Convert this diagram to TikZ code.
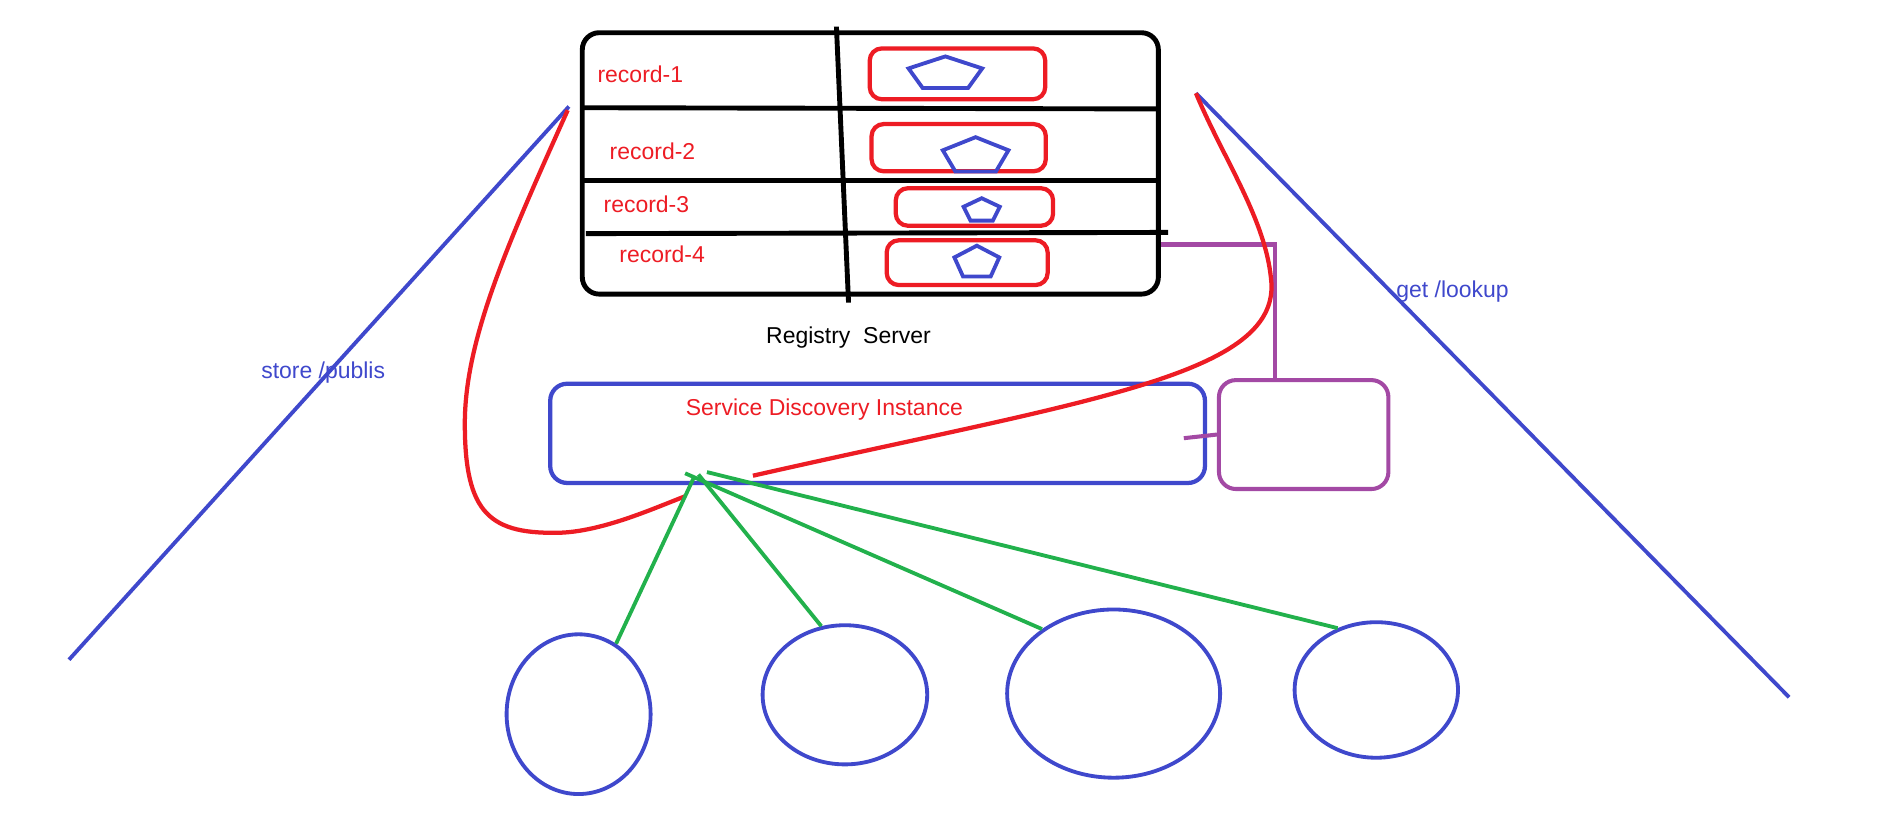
\documentclass[tikz,border=0pt]{standalone}
\usepackage{fontspec}
\setmainfont{Liberation Sans}
\usetikzlibrary{shapes}
\definecolor{paint_red}{RGB}{237, 28, 36}
\definecolor{paint_blue}{RGB}{63, 72, 204}
\definecolor{paint_green}{RGB}{34, 177, 76}
\definecolor{paint_purple}{RGB}{163, 73, 164}
\tikzstyle{regbox}=[rectangle,rounded corners=0.28cm,draw=black,line width=2.3pt,
  inner sep=0pt,minimum width=9.52cm,minimum height=4.32cm]
\tikzstyle{recbox}=[rectangle,rounded corners=0.2cm,draw=paint_red,line width=2pt,inner sep=0pt]
\tikzstyle{pent}=[regular polygon,regular polygon sides=5,draw=paint_blue,line width=1.8pt,inner sep=0pt]
\tikzstyle{sdbox}=[rectangle,rounded corners=0.28cm,draw=paint_blue,line width=2pt,
  inner sep=0pt,minimum width=10.82cm,minimum height=1.64cm]
\tikzstyle{helperbox}=[rectangle,rounded corners=0.28cm,draw=paint_purple,line width=1.9pt,
  inner sep=0pt,minimum width=2.8cm,minimum height=1.8cm]
\tikzstyle{client}=[ellipse,draw=paint_blue,line width=1.8pt,inner sep=0pt]
\tikzstyle{txt}=[font=\fontsize{10.8}{13}\selectfont,inner sep=0pt]

\begin{document}
\begin{tikzpicture}[x=0.02cm,y=-0.02cm]
    \useasboundingbox (0,0) rectangle (1568,689);
    % registry table
    \node [style=regbox] (reg) at (719,135) {};
    \draw [line width=2.3pt] (481,89) -- (957,90);
    \draw [line width=2.3pt] (481,149) -- (957,149);
    \draw [line width=2.3pt] (484,193) -- (965,192);
    \draw [line width=2.3pt] (691,22) -- (701,250);
    \node [style=txt,text=paint_red] (r1) at (529,61) {record-1};
    \node [style=txt,text=paint_red] (r2) at (539,125) {record-2};
    \node [style=txt,text=paint_red] (r3) at (534,169) {record-3};
    \node [style=txt,text=paint_red] (r4) at (547,210) {record-4};
    \node [style=recbox,minimum width=2.9cm,minimum height=0.84cm] (b1) at (791,61) {};
    \node [style=recbox,minimum width=2.88cm,minimum height=0.78cm] (b2) at (792,122) {};
    \node [style=recbox,minimum width=2.6cm,minimum height=0.62cm] (b3) at (805,171) {};
    \node [style=recbox,minimum width=2.66cm,minimum height=0.74cm] (b4) at (799,217) {};
    \node [style=pent,minimum size=1.28cm,yscale=0.45] (p1) at (781,61) {};
    \node [style=pent,minimum size=1.14cm,yscale=0.55] (p2) at (806,129) {};
    \node [style=pent,minimum size=0.63cm,yscale=0.65] (p3) at (811,174) {};
    \node [style=pent,minimum size=0.78cm,yscale=0.72] (p4) at (807,217) {};
    \node [style=txt] (regname) at (701,279) {Registry\ \ Server};
    % discovery instance + helper
    \node [style=sdbox] (sd) at (725,358) {};
    \node [style=txt,text=paint_red] (sdname) at (681,338) {Service Discovery Instance};
    \node [style=helperbox] (helper) at (1077,359) {};
    \coordinate (bend) at (1053,202);
    \coordinate (stub) at (978,362);
    \draw [paint_purple,line width=1.9pt] (reg.east |- bend) -- (bend) -- (bend |- helper.north);
    \draw [paint_purple,line width=1.9pt] (stub) -- (helper.west);
    % store / lookup
    \coordinate (pubtop) at (470,88);
    \coordinate (pubend) at (57,545);
    \coordinate (looktop) at (988,77);
    \coordinate (lookend) at (1478,576);
    \draw [paint_blue,line width=1.8pt] (pubtop) -- (pubend);
    \draw [paint_blue,line width=1.8pt] (looktop) -- (lookend);
    \node [style=txt,text=paint_blue] (publbl) at (267,308) {store /publis};
    \node [style=txt,text=paint_blue] (looklbl) at (1200,241) {get /lookup};
    \coordinate (loopend) at (566,410);
    \coordinate (arcstart) at (622,393);
    \draw [paint_red,line width=2pt] (469,91) .. controls (420,200) and (384,280) .. (384,350)
      .. controls (384,425) and (405,442) .. (465,440)
      .. controls (500,438) and (540,420) .. (loopend);
    \draw [paint_red,line width=2pt] (arcstart) .. controls (900,330) and (1060,310) .. (1050,230)
      .. controls (1045,180) and (1010,130) .. (looktop);
    % clients
    \node [style=client,minimum width=2.38cm,minimum height=2.64cm] (e1) at (478,590) {};
    \node [style=client,minimum width=2.72cm,minimum height=2.3cm] (e2) at (698,574) {};
    \node [style=client,minimum width=3.52cm,minimum height=2.78cm] (e3) at (920,573) {};
    \node [style=client,minimum width=2.7cm,minimum height=2.24cm] (e4) at (1137,570) {};
    \coordinate (h1) at (573,395);
    \coordinate (h2) at (577,392);
    \coordinate (h3) at (566,391);
    \coordinate (h4) at (584,390);
    \draw [paint_green,line width=1.8pt] (h1) -- (e1.62);
    \draw [paint_green,line width=1.8pt] (h2) -- (e2.109);
    \draw [paint_green,line width=1.8pt] (h3) -- (e3.138);
    \draw [paint_green,line width=1.8pt] (h4) -- (e4.122);
  \end{tikzpicture}
\end{document}
